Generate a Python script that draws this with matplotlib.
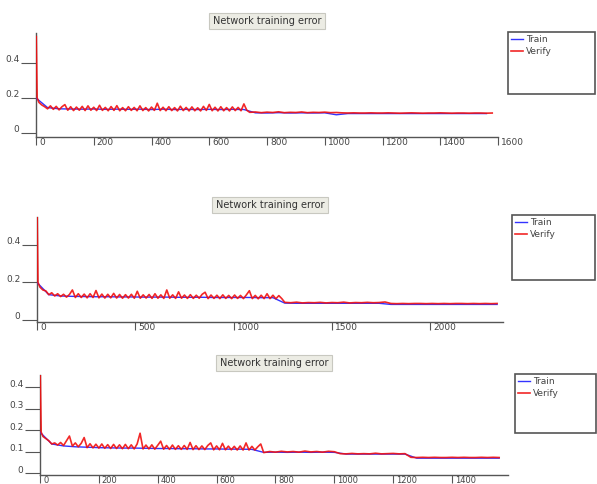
import numpy as np
import matplotlib
matplotlib.use('Agg')
import matplotlib.pyplot as plt
from matplotlib.patches import Rectangle
import matplotlib.transforms as mtransforms

W, H = 597, 484
plt.rcParams['font.family'] = ['DejaVu Sans']

title_text = "Network training error"
legend_labels = ["Train", "Verify"]

# ---------------- Panel 1 ----------------
p1_verify_init_iter = [1, 4]
p1_verify_init = [0.55, 0.20]
p1_verify_a_start, p1_verify_a_step = 10, 10
p1_verify_a = [0.175, 0.16, 0.15, 0.138, 0.155, 0.135, 0.152, 0.132, 0.15, 0.162,
               0.13, 0.15, 0.128, 0.148, 0.13, 0.152, 0.128, 0.155, 0.13, 0.147,
               0.128, 0.158, 0.129, 0.146, 0.127, 0.151, 0.129, 0.156, 0.127, 0.145,
               0.127, 0.15, 0.129, 0.146, 0.127, 0.155, 0.128, 0.145, 0.126, 0.148,
               0.129, 0.17, 0.128, 0.147, 0.127, 0.15, 0.128, 0.145, 0.126, 0.153,
               0.128, 0.146, 0.126, 0.149, 0.127, 0.144, 0.126, 0.152, 0.129, 0.163,
               0.127, 0.147, 0.126, 0.15, 0.127, 0.145, 0.126, 0.149, 0.128, 0.146,
               0.127, 0.166, 0.13]
p1_verify_b_start, p1_verify_b_step = 740, 20
p1_verify_b = [0.118, 0.12, 0.116, 0.119, 0.117, 0.121, 0.116, 0.118, 0.117, 0.12,
               0.116, 0.118, 0.117, 0.119, 0.116, 0.117,
               0.115, 0.114, 0.115, 0.114, 0.114, 0.115, 0.114, 0.114, 0.115, 0.114,
               0.113, 0.114, 0.115, 0.114, 0.113, 0.114, 0.114, 0.115, 0.114, 0.113,
               0.114, 0.114, 0.113, 0.114, 0.114, 0.113, 0.114]
p1_train_step = 40
p1_train = [0.2, 0.145, 0.138, 0.137, 0.136, 0.137, 0.135, 0.136, 0.135, 0.136,
            0.134, 0.136, 0.134, 0.135, 0.134, 0.135, 0.134, 0.135, 0.134,
            0.115, 0.114, 0.116, 0.114, 0.115, 0.114, 0.115,
            0.104,
            0.111, 0.111, 0.111, 0.111, 0.111, 0.111, 0.111, 0.111, 0.111, 0.111,
            0.111, 0.111, 0.111]
p1_xticks = [0, 200, 400, 600, 800, 1000, 1200, 1400, 1600]
p1_yticks = [0, 0.2, 0.4]
p1_yticklabels = ["0", "0.2", "0.4"]

# ---------------- Panel 2 ----------------
p2_verify_init_iter = [1, 5]
p2_verify_init = [0.55, 0.20]
p2_verify_a_start, p2_verify_a_step = 15, 15
p2_verify_a = [0.175, 0.16, 0.155, 0.135, 0.145, 0.128, 0.14, 0.125, 0.137, 0.122,
               0.136, 0.16, 0.12, 0.14, 0.12, 0.138, 0.118, 0.14, 0.12, 0.157,
               0.118, 0.138, 0.117, 0.137, 0.118, 0.142, 0.117, 0.136, 0.116, 0.135,
               0.117, 0.137, 0.116, 0.153, 0.116, 0.134, 0.117, 0.136, 0.115, 0.14,
               0.116, 0.134, 0.115, 0.16, 0.116, 0.134, 0.115, 0.15, 0.116, 0.133,
               0.115, 0.135, 0.115, 0.132, 0.116, 0.137, 0.148, 0.114, 0.133, 0.115,
               0.132, 0.114, 0.134, 0.115, 0.131, 0.114, 0.133, 0.115, 0.131, 0.114,
               0.134, 0.156, 0.114, 0.131, 0.113, 0.132, 0.114, 0.14, 0.114, 0.132,
               0.113, 0.13, 0.114]
p2_verify_b_start, p2_verify_b_step = 1260, 30
p2_verify_b = [0.094, 0.092, 0.095, 0.091, 0.093, 0.092, 0.094, 0.091, 0.093, 0.092,
               0.095, 0.091, 0.093, 0.092, 0.094, 0.092, 0.093, 0.096,
               0.088, 0.087, 0.088, 0.087, 0.088, 0.088, 0.087, 0.088, 0.087, 0.088,
               0.087, 0.088, 0.088, 0.087, 0.088, 0.087, 0.088, 0.087, 0.088]
p2_train_step = 60
p2_train = [0.2, 0.135, 0.128, 0.126, 0.125, 0.124, 0.124, 0.123, 0.123, 0.122,
            0.122, 0.122, 0.121, 0.121, 0.121, 0.12, 0.12, 0.12, 0.12, 0.119,
            0.119,
            0.09,
            0.089, 0.089, 0.089, 0.089, 0.089, 0.089, 0.089, 0.089,
            0.083, 0.083, 0.083, 0.083, 0.083, 0.083, 0.083, 0.083, 0.083, 0.083]
p2_xticks = [0, 500, 1000, 1500, 2000]
p2_yticks = [0, 0.2, 0.4]
p2_yticklabels = ["0", "0.2", "0.4"]

# ---------------- Panel 3 ----------------
p3_verify_init_iter = [1, 4]
p3_verify_init = [0.46, 0.19]
p3_verify_a_start, p3_verify_a_step = 10, 10
p3_verify_a = [0.17, 0.16, 0.15, 0.135, 0.14, 0.13, 0.142, 0.128, 0.15, 0.172,
               0.125, 0.14, 0.122, 0.138, 0.165, 0.118, 0.136, 0.117, 0.134, 0.116,
               0.135, 0.115, 0.132, 0.114, 0.133, 0.114, 0.131, 0.113, 0.133, 0.113,
               0.131, 0.112, 0.135, 0.185, 0.112, 0.13, 0.112, 0.131, 0.111, 0.129,
               0.148, 0.111, 0.128, 0.11, 0.13, 0.11, 0.127, 0.11, 0.128, 0.11,
               0.142, 0.109, 0.127, 0.109, 0.126, 0.109, 0.128, 0.14, 0.108, 0.126,
               0.108, 0.138, 0.108, 0.125, 0.108, 0.124, 0.107, 0.126, 0.107, 0.14,
               0.107, 0.124, 0.107, 0.122, 0.135]
p3_verify_b_start, p3_verify_b_step = 760, 20
p3_verify_b = [0.095, 0.1, 0.097, 0.101, 0.098, 0.1, 0.097, 0.102, 0.098, 0.1,
               0.097, 0.101, 0.099,
               0.09, 0.089, 0.091, 0.089, 0.09, 0.089, 0.092, 0.089, 0.09, 0.091,
               0.089, 0.09,
               0.073, 0.072, 0.073, 0.072, 0.073, 0.072, 0.072, 0.073, 0.072, 0.073,
               0.072, 0.072, 0.073, 0.072, 0.073, 0.072]
p3_train_step = 40
p3_train = [0.19, 0.135, 0.126, 0.122, 0.12, 0.118, 0.117, 0.116, 0.116, 0.115,
            0.114, 0.114, 0.113, 0.113, 0.112, 0.112, 0.111, 0.111, 0.11,
            0.096, 0.097, 0.096, 0.097, 0.096, 0.097, 0.096,
            0.088, 0.088, 0.088, 0.088, 0.088, 0.088,
            0.069, 0.069, 0.069, 0.069, 0.069, 0.069, 0.069, 0.069]
p3_xticks = [0, 200, 400, 600, 800, 1000, 1200, 1400]
p3_yticks = [0, 0.1, 0.2, 0.3, 0.4]
p3_yticklabels = ["0", "0.1", "0.2", "0.3", "0.4"]

TRAIN_C = '#3333ff'
VERIFY_C = '#f01010'
AX_C = '#555555'
TXT_C = '#444444'

fig = plt.figure(figsize=(W / 100, H / 100), dpi=100)
fig.patch.set_facecolor('white')


def panel(box, xlim, ylim, xticks, yticks, yticklabels,
          v_init_it, v_init, a_start, a_step, va, b_start, b_step, vb,
          t_step, t, leg_box, tick_fs=6.5):
    l, tp, r, b = box
    ax = fig.add_axes([l / W, 1 - b / H, (r - l) / W, (b - tp) / H])
    vx = (list(v_init_it)
          + [a_start + a_step * i for i in range(len(va))]
          + [b_start + b_step * i for i in range(len(vb))])
    vy = list(v_init) + list(va) + list(vb)
    tx = [t_step * i for i in range(len(t))]
    ln_t, = ax.plot(tx, t, color=TRAIN_C, lw=1.0, zorder=3, label=legend_labels[0])
    ln_v, = ax.plot(vx, vy, color=VERIFY_C, lw=1.2, alpha=0.9, zorder=3,
                    label=legend_labels[1])
    ax.set_xlim(*xlim)
    ax.set_ylim(*ylim)
    for s in ['top', 'right']:
        ax.spines[s].set_visible(False)
    for s in ['left', 'bottom']:
        ax.spines[s].set_color(AX_C)
        ax.spines[s].set_linewidth(1.0)
    ax.set_xticks(xticks)
    ax.set_xticklabels([str(x) for x in xticks])
    ax.set_yticks(yticks)
    ax.set_yticklabels(yticklabels)
    ax.tick_params(axis='x', direction='out', length=6, pad=-5, width=0.8,
                   color=AX_C, labelsize=tick_fs, labelcolor=TXT_C)
    ax.tick_params(axis='y', direction='out', length=11, pad=1, width=0.8,
                   color=AX_C, labelsize=6.5, labelcolor=TXT_C)
    offx = mtransforms.ScaledTranslation(3 / 100, 0, fig.dpi_scale_trans)
    for lab in ax.get_xticklabels():
        lab.set_horizontalalignment('left')
        lab.set_transform(lab.get_transform() + offx)
    offy = mtransforms.ScaledTranslation(0, 4 / 100, fig.dpi_scale_trans)
    for lab in ax.get_yticklabels():
        lab.set_transform(lab.get_transform() + offy)
    # title box
    tr = ax.transAxes + mtransforms.ScaledTranslation(0, 12 / 100, fig.dpi_scale_trans)
    ax.text(0.5, 1.0, title_text, transform=tr, ha='center', va='center',
            fontsize=7, color='#333333',
            bbox=dict(boxstyle='square,pad=0.35', fc='#ececE4', ec='#c8c8c0', lw=0.8))
    # legend
    x0, y0, x1, y1 = leg_box
    fig.add_artist(Rectangle((x0 / W, 1 - y1 / H), (x1 - x0) / W, (y1 - y0) / H,
                             transform=fig.transFigure, fill=False, ec=AX_C, lw=1.2))
    ax.legend(handles=[ln_t, ln_v], labels=legend_labels, loc='upper left',
              bbox_to_anchor=((x0 + 3) / W, 1 - (y0 + 3) / H),
              bbox_transform=fig.transFigure, frameon=False, fontsize=6.5,
              handlelength=1.3, handletextpad=0.4, labelspacing=0.3,
              borderpad=0, borderaxespad=0, labelcolor=TXT_C)
    return ax


panel((36, 33, 498, 137), (0, 1600), (-0.0229, 0.571), p1_xticks, p1_yticks, p1_yticklabels,
      p1_verify_init_iter, p1_verify_init, p1_verify_a_start, p1_verify_a_step, p1_verify_a,
      p1_verify_b_start, p1_verify_b_step, p1_verify_b,
      p1_train_step, p1_train, (508, 32, 595, 94))
panel((37, 217, 503, 322), (0, 2370), (-0.0107, 0.549), p2_xticks, p2_yticks, p2_yticklabels,
      p2_verify_init_iter, p2_verify_init, p2_verify_a_start, p2_verify_a_step, p2_verify_a,
      p2_verify_b_start, p2_verify_b_step, p2_verify_b,
      p2_train_step, p2_train, (512, 215, 595, 280))
panel((40, 375, 508, 475), (0, 1590), (-0.0093, 0.456), p3_xticks, p3_yticks, p3_yticklabels,
      p3_verify_init_iter, p3_verify_init, p3_verify_a_start, p3_verify_a_step, p3_verify_a,
      p3_verify_b_start, p3_verify_b_step, p3_verify_b,
      p3_train_step, p3_train, (515, 374, 596, 433), tick_fs=6)

fig.savefig('out.png', dpi=100)
